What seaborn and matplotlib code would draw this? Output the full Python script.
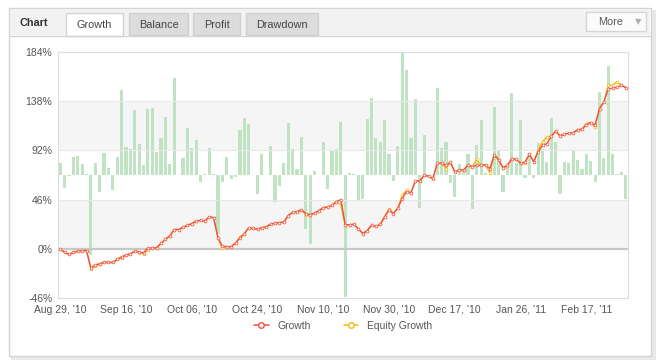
import numpy as np
import seaborn as sns
import matplotlib.pyplot as plt
from matplotlib.patches import Rectangle
from matplotlib.lines import Line2D
from matplotlib.transforms import blended_transform_factory

# daily profit bars (arbitrary units, drawn on a hidden secondary axis)
profit = [11.7, -12.7, -0.5, 18.3, 19, 10.7, 0.7, -80, 11.7, -16.7,
          21.7, 7, -14.7, 17.7, 85.3, 28, 25.7, 64.7, 31, 10.3,
          65.7, 66.7, 23, 37, 58, 10.7, 97, 0.5, 16.7, 47.3,
          27, 35, -6.7, 0.7, 27.3, 0.7, -59.3, -7.3, 17.7, -4,
          -2, 45, 57, 51, 0, -18.7, 20.7, 0, 28.7, -26.7,
          -11.3, 12.3, 51.7, 26.3, 6, 38.3, -54, -68.7, 4.3, 0,
          32.7, -13.7, 24, 25.7, 53, -121.7, 2, 1, -25.3, -24.3,
          55.7, 77.3, 37.3, 33.3, 54.7, 21, -6.3, 29, 122.3, 105,
          37.3, 76, -32.7, 40, 0, 0, 87, 27, 33.3, -7.7,
          -21.7, 11, 5, 20.7, -34, 30, 55, 2, 0, 68,
          24.3, -17, 10, 82.3, 12.3, 55, -3.3, 21.7, -2.7, 32,
          26, 13.3, 57, 33, -18.7, 13, 12, 25, 15, 6.3,
          21, 14, -7, 83, 17.3, 109, 21, 0.7, 3, -24]

growth = [0, -3.4, -5.3, -3.4, -2.2, -1.9, -1.6, -18, -15, -14,
          -12.5, -12.8, -12.8, -10, -7.5, -6, -4.7, -2.2, -3, -3.7,
          1, 0.3, 1.2, 5, 9, 12, 18, 18, 20, 22,
          23.5, 26, 26.5, 26, 30, 29, 10, 2.5, 2, 2,
          5.5, 10, 14, 19.7, 19, 18.4, 19.7, 20.6, 23, 24,
          24.5, 25, 31, 34, 34.5, 36.5, 33, 32, 33.4, 35.6,
          38.5, 39, 40.8, 44, 46, 22.5, 22.5, 22.8, 18.7, 14.3,
          17, 22, 21, 22.8, 30, 36, 33, 38, 47, 53.4,
          52.4, 63.3, 63.3, 68.6, 68, 65.8, 79.9, 79.9, 78, 81,
          71.8, 73.6, 73.6, 78.3, 76.8, 78, 78, 78.3, 74.9, 88,
          83, 75.8, 78.3, 84.2, 83.6, 79.9, 81.1, 88.3, 81.4, 90.8,
          96.7, 98.3, 105.1, 110.1, 105.5, 107.3, 108, 108.3, 111.4, 111.7,
          116, 118, 115.8, 131, 137.3, 149.8, 150, 151, 152.9, 150.7]

equity = [0, -3.4, -5.3, -3.4, -2.2, -1.9, -1.6, -18.5, -16, -14.5,
          -12.5, -12.8, -12.8, -10, -8.3, -6, -4.7, -2.2, -3.5, -4.5,
          -1, 0.3, 1.2, 5, 9, 12, 18, 18, 20, 22,
          23.5, 26, 26.5, 26, 30, 29, 10, 0.3, 2, 2,
          5.5, 11, 14, 19.7, 19, 18.4, 19.7, 20.6, 23, 24,
          24.5, 25, 31, 34, 34.5, 36.5, 32, 31, 33.4, 35.6,
          38.5, 39, 40.8, 44, 41, 22.5, 22.5, 22.8, 18.7, 14.3,
          17, 22, 21, 22.8, 30, 37.5, 33, 38, 50, 54.6,
          52.4, 63.3, 63.3, 68.6, 68, 65, 79.9, 79.9, 75, 81,
          71.8, 73.6, 73.6, 78.3, 76.8, 83.6, 78, 78.3, 71, 88,
          83, 75.8, 77.5, 84.2, 83.6, 79.9, 80, 88.3, 81.4, 92,
          100, 104.8, 105.1, 110.1, 105.5, 107.3, 108, 108.3, 111.4, 111.7,
          117, 118, 113.5, 131, 137.3, 153, 153, 156.3, 153, 150.7]

date_labels = ["Aug 29, '10", "Sep 16, '10", "Oct 06, '10", "Oct 24, '10", "Nov 10, '10",
               "Nov 30, '10", "Dec 17, '10", "Jan 26, '11", "Feb 17, '11"]
date_pos = [0, 15, 30, 45, 60, 75, 90, 105, 120]
y_ticks = [-46, 0, 46, 92, 138, 184]
tabs = ["Growth", "Balance", "Profit", "Drawdown"]

RED = "#f04e45"
YELLOW = "#f6b90f"
GREEN = "#b8e0bd"
TXT = "#555555"

sns.set_theme(style="white")
plt.rcParams['font.family'] = ['Liberation Sans', 'DejaVu Sans']

W, H = 669, 363
fig = plt.figure(figsize=(W / 100, H / 100), dpi=100)


def frect(x, y, w, h, **kw):
    fig.add_artist(Rectangle((x / W, 1 - (y + h) / H), w / W, h / H,
                             transform=fig.transFigure, **kw))


def ftext(x, y, s, **kw):
    fig.text(x / W, 1 - y / H, s, **kw)


# panel + header
frect(11, 10, 645, 350, fc="#e8e8e8", ec="none", zorder=-3)
frect(9, 8, 642, 348, fc="white", ec="#d4d4d4", lw=1, zorder=-2)
frect(10, 9, 640, 26, fc="#f2f2f2", ec="none", zorder=-1)
fig.add_artist(Line2D([10 / W, 650 / W], [1 - 35.5 / H] * 2, color="#d4d4d4", lw=1,
                      transform=fig.transFigure))
ftext(20, 23, "Chart", fontsize=7.8, fontweight="bold", color="#333333", va="center")
tab_x = [66, 129, 193, 246]
tab_w = [57, 59, 47, 72]
for i, (name, tx, tw) in enumerate(zip(tabs, tab_x, tab_w)):
    if i == 0:
        frect(tx, 13, tw, 23, fc="white", ec="#d4d4d4", lw=1)
    else:
        frect(tx, 13, tw, 22, fc="#dcdcdc", ec="#d0d0d0", lw=1)
    ftext(tx + tw / 2, 24.5, name, fontsize=7.8, color="#444444", ha="center", va="center")
frect(586, 12, 60, 19, fc="#fbfbfb", ec="#d6d6d6", lw=1)
ftext(598, 22, "More", fontsize=7.8, color="#555555", va="center")
ftext(638, 22, "\u25bc", fontsize=6, color="#b0b0b0", ha="center", va="center",
      family=["DejaVu Sans"])

# axes
ax = fig.add_axes([58 / W, 1 - 298 / H, 570 / W, 246 / H])
ax2 = ax.twinx()
ax.set_zorder(ax2.get_zorder() + 1)
ax.patch.set_visible(False)

idx = np.arange(len(growth))
ax.set_ylim(-46, 184)
ax2.set_ylim(-123, 123)

# alternating bands behind bars
band_tr = blended_transform_factory(ax2.transAxes, ax.transData)
for lo, hi in [(0, 46), (92, 138)]:
    ax2.add_patch(Rectangle((0, lo), 1, hi - lo, transform=band_tr,
                            fc="#f5f5f5", ec="none", zorder=0))

sns.barplot(x=idx, y=profit, ax=ax2, color=GREEN, saturation=1, width=0.72,
            alpha=0.9, linewidth=0, edgecolor="none", zorder=2)
ax2.set_yticks([])
ax2.set_ylabel("")

for yv in [46, 92, 138]:
    ax.axhline(yv, color="#e8e8e8", lw=0.8, zorder=1)
ax.axhline(0, color="#c8c8c8", lw=1.6, zorder=1)

sns.lineplot(x=idx, y=equity, ax=ax, color=YELLOW, lw=1.0, marker="o", markersize=2.0,
             markerfacecolor="white", markeredgecolor=YELLOW, markeredgewidth=0.5,
             legend=False, zorder=3)
sns.lineplot(x=idx, y=growth, ax=ax, color=RED, lw=1.0, marker="o", markersize=2.0,
             markerfacecolor="white", markeredgecolor=RED, markeredgewidth=0.5,
             legend=False, zorder=4)

ax.set_xlim(-0.5, len(growth) - 0.5)
ax.set_yticks(y_ticks)
ax.set_yticklabels([f"{v}%" for v in y_ticks])
ax.set_xticks(date_pos)
ax.set_xticklabels(date_labels)
ax.tick_params(axis="both", length=0, labelsize=7.5, colors=TXT)
ax.tick_params(axis="y", pad=4)
ax.tick_params(axis="x", pad=5, labelbottom=True)
ax.set_xlabel("")
ax.set_ylabel("")
for sp in ax2.spines.values():
    sp.set_visible(False)
for sp in ax.spines.values():
    sp.set_color("#dcdcdc")
    sp.set_linewidth(0.8)

handles = [Line2D([], [], color=RED, lw=1.1, marker="o", markersize=4,
                  markerfacecolor="white", markeredgecolor=RED, markeredgewidth=1),
           Line2D([], [], color=YELLOW, lw=1.1, marker="o", markersize=4,
                  markerfacecolor="white", markeredgecolor=YELLOW, markeredgewidth=1)]
leg = fig.legend(handles, ["Growth", "Equity Growth"], loc="center",
                 bbox_to_anchor=(343 / W, 1 - 326 / H), ncol=2, frameon=False,
                 fontsize=7.5, handlelength=1.4, handletextpad=0.8, columnspacing=3.2)
for t in leg.get_texts():
    t.set_color(TXT)

fig.savefig("out.png", dpi=100)
